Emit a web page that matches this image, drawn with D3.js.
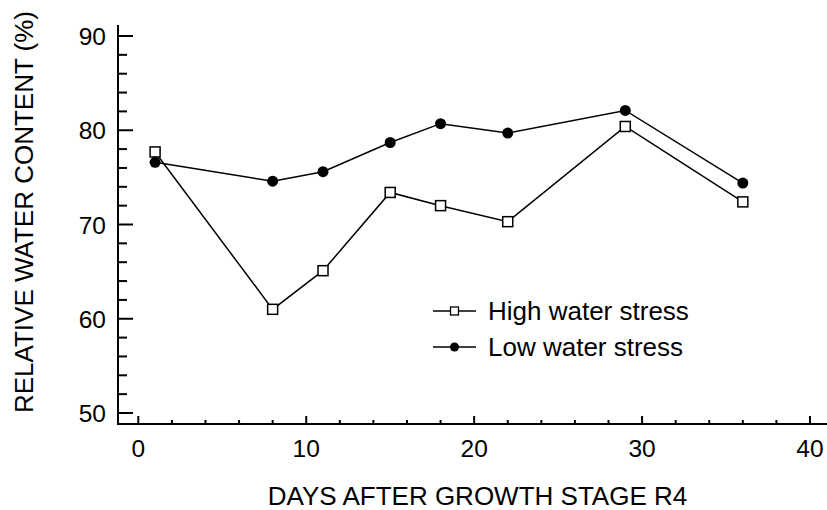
<!DOCTYPE html>
<html><head><meta charset="utf-8">
<script src="https://cdn.jsdelivr.net/npm/d3@7"></script>
<style>body{margin:0;background:#fff}svg{display:block}text{font-family:"Liberation Sans",Arial,sans-serif;fill:#000}</style>
</head><body><svg width="827" height="510"></svg>
<script>
const days = [1, 8, 11, 15, 18, 22, 29, 36];
const highStress = [77.7, 61.0, 65.1, 73.4, 72.0, 70.3, 80.4, 72.4];
const lowStress = [76.6, 74.6, 75.6, 78.7, 80.7, 79.7, 82.1, 74.4];
const seriesNames = ["High water stress", "Low water stress"];
const xTicks = [0, 10, 20, 30, 40];
const yTicks = [50, 60, 70, 80, 90];
const xTitle = "DAYS AFTER GROWTH STAGE R4";
const yTitle = "RELATIVE WATER CONTENT (%)";

const svg = d3.select("svg");
const x = d3.scaleLinear().domain([0, 40]).range([138.3, 810]);
const y = d3.scaleLinear().domain([50, 90]).range([413, 36]);
const x0 = 118, y0 = 424;

// axes lines
svg.append("line").attr("x1", x0).attr("x2", 827).attr("y1", y0).attr("y2", y0).attr("stroke", "#000").attr("stroke-width", 2);
svg.append("line").attr("x1", x0).attr("x2", x0).attr("y1", 25).attr("y2", y0 + 1).attr("stroke", "#000").attr("stroke-width", 2);

// y ticks
const yMinor = d3.range(50, 91, 2).filter(v => v % 10 !== 0);
svg.selectAll(".ymaj").data(yTicks).enter().append("line")
  .attr("x1", x0).attr("x2", x0 + 15).attr("y1", d => y(d)).attr("y2", d => y(d)).attr("stroke", "#000").attr("stroke-width", 2);
svg.selectAll(".ymin").data(yMinor).enter().append("line")
  .attr("x1", x0).attr("x2", x0 + 9).attr("y1", d => y(d)).attr("y2", d => y(d)).attr("stroke", "#000").attr("stroke-width", 2);
svg.selectAll(".ylab").data(yTicks).enter().append("text")
  .attr("x", 106).attr("y", d => y(d) + 9).attr("text-anchor", "end").attr("font-size", 24.5).text(d => d);

// x ticks
const xMinor = d3.range(0, 41, 2).filter(v => v % 10 !== 0);
svg.selectAll(".xmaj").data(xTicks).enter().append("line")
  .attr("x1", d => x(d)).attr("x2", d => x(d)).attr("y1", y0).attr("y2", y0 - 8).attr("stroke", "#000").attr("stroke-width", 2);
svg.selectAll(".xmin").data(xMinor).enter().append("line")
  .attr("x1", d => x(d)).attr("x2", d => x(d)).attr("y1", y0).attr("y2", y0 - 4).attr("stroke", "#000").attr("stroke-width", 2);
svg.selectAll(".xlab").data(xTicks).enter().append("text")
  .attr("x", d => x(d)).attr("y", 457).attr("text-anchor", "middle").attr("font-size", 24.5).text(d => d);

// titles
svg.append("text").attr("x", 477.5).attr("y", 505).attr("text-anchor", "middle").attr("font-size", 26).text(xTitle);
svg.append("text").attr("transform", "translate(33,212) rotate(-90)").attr("text-anchor", "middle").attr("font-size", 26).text(yTitle);

const line = d3.line().x((d, i) => x(days[i])).y(d => y(d));
svg.append("path").datum(highStress).attr("d", line).attr("fill", "none").attr("stroke", "#000").attr("stroke-width", 1.5);
svg.append("path").datum(lowStress).attr("d", line).attr("fill", "none").attr("stroke", "#000").attr("stroke-width", 1.5);

svg.selectAll(".sq").data(highStress).enter().append("rect")
  .attr("x", (d, i) => x(days[i]) - 5).attr("y", d => y(d) - 5).attr("width", 10).attr("height", 10)
  .attr("fill", "#fff").attr("stroke", "#000").attr("stroke-width", 1.5);
svg.selectAll(".ci").data(lowStress).enter().append("circle")
  .attr("cx", (d, i) => x(days[i])).attr("cy", d => y(d)).attr("r", 5.5).attr("fill", "#000");

// legend
const lg = svg.append("g");
const ly = [311, 347];
seriesNames.forEach((n, i) => {
  lg.append("line").attr("x1", 433).attr("x2", 476).attr("y1", ly[i]).attr("y2", ly[i]).attr("stroke", "#000").attr("stroke-width", 1.5);
  if (i === 0) lg.append("rect").attr("x", 450.5).attr("y", ly[i] - 4).attr("width", 8).attr("height", 8).attr("fill", "#fff").attr("stroke", "#000").attr("stroke-width", 1.3);
  else lg.append("circle").attr("cx", 454.5).attr("cy", ly[i]).attr("r", 4.5).attr("fill", "#000");
  lg.append("text").attr("x", 488).attr("y", ly[i] + 8.5).attr("font-size", 26).text(n);
});
</script></body></html>
